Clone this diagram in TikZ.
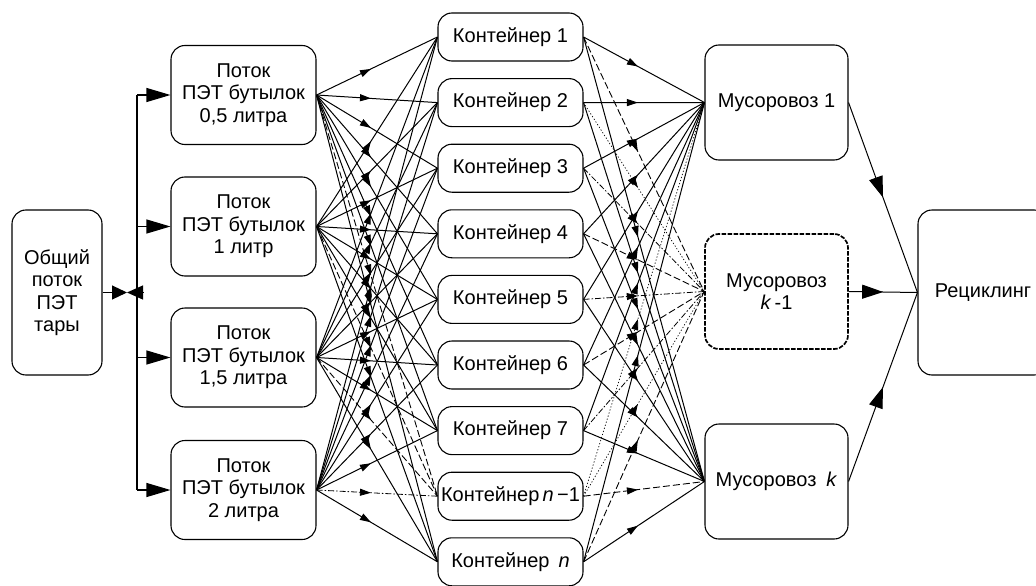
\documentclass[tikz,border=0pt]{standalone}
\usepackage{fontspec}
\setmainfont{Liberation Sans}
\usetikzlibrary{arrows.meta,decorations.markings}
\tikzset{
  box/.style={draw, line width=1.1pt, rounded corners=14pt, align=center,
    font=\fontsize{20}{22.5}\selectfont, inner sep=0pt},
  contbox/.style={box, minimum width=145pt, minimum height=48pt},
  streambox/.style={box, minimum width=145pt, minimum height=99pt},
  truckbox/.style={box, minimum width=143pt, minimum height=115pt},
  midarrow/.style={postaction={decorate, decoration={markings,
    mark=at position #1 with {\arrow{Triangle[length=11pt,width=7pt]}}}}},
  bigmid/.style={postaction={decorate, decoration={markings,
    mark=at position #1 with {\arrow{Triangle[length=21pt,width=14pt]}}}}},
  solidln/.style={line width=1pt, midarrow=0.45},
  dashln/.style={line width=0.9pt, dash pattern=on 7pt off 3pt, midarrow=0.45},
  dotln/.style={line width=0.7pt, dash pattern=on 1.2pt off 2pt, midarrow=0.45},
  dashdotln/.style={line width=0.8pt, dash pattern=on 6pt off 2pt on 1.5pt off 2pt, midarrow=0.45},
  bigtip/.style={line width=1.1pt, -{Triangle[length=24pt,width=14pt]}},
}
\begin{document}
\begin{tikzpicture}[x=1pt,y=-1pt]
\useasboundingbox (0,0) rectangle (1036,586);

% left node
\node[box, minimum width=90pt, minimum height=165pt] (G) at (57,292.5) {Общий\\поток\\ПЭТ\\тары};

% streams
\node[streambox] (S1) at (243.5,95) {Поток\\ПЭТ бутылок\\0,5 литра};
\node[streambox] (S2) at (243.5,226.5) {Поток\\ПЭТ бутылок\\1 литр};
\node[streambox] (S3) at (243.5,357.5) {Поток\\ПЭТ бутылок\\1,5 литра};
\node[streambox] (S4) at (243.5,490) {Поток\\ПЭТ бутылок\\2 литра};

% containers
\node[contbox] (C1) at (510.5,37) {Контейнер 1};
\node[contbox] (C2) at (510.5,102.6) {Контейнер 2};
\node[contbox] (C3) at (510.5,168.2) {Контейнер 3};
\node[contbox] (C4) at (510.5,233.8) {Контейнер 4};
\node[contbox] (C5) at (510.5,299.4) {Контейнер 5};
\node[contbox] (C6) at (510.5,365) {Контейнер 6};
\node[contbox] (C7) at (510.5,430.6) {Контейнер 7};
\node[contbox] (Cm) at (510.5,496.2) {Контейнер\thinspace\textit{n}\thinspace−1};
\node[contbox] (Cn) at (510.5,561.8) {Контейнер\hspace{0.45em}\textit{n}};

% trucks
\node[truckbox] (T1) at (776.5,102.5) {Мусоровоз 1};
\node[truckbox, line width=1.7pt, dash pattern=on 4.5pt off 1.5pt] (Tm) at (776.5,291.5) {Мусоровоз\\\textit{k}\,-1};
\node[truckbox] (Tk) at (776.5,481.5) {Мусоровоз\hspace{0.5em}\textit{k}};

% recycling
\node[box, minimum width=130pt, minimum height=165pt] (R) at (983,292.5) {Рециклинг};

% bus
\coordinate (b1) at (137,95);
\coordinate (b2) at (137,226.5);
\coordinate (b3) at (137,357.5);
\coordinate (b4) at (137,490);
\coordinate (bw) at (127,292.5);
\coordinate (be) at (143,292.5);
\draw[line width=1.1pt] (b1) -- (b4);
\draw[line width=1.1pt, -{Triangle[length=15pt,width=14pt]}] (G.east) -- (bw);
\draw[line width=1.1pt, -{Triangle[length=16pt,width=14pt]}] (be) -- (bw);
\foreach \b/\s in {b1/S1,b2/S2,b3/S3,b4/S4}
  \draw[bigtip] (\b) -- (\s.west);

% streams -> containers
\foreach \s in {S1,S2,S3,S4}{
  \foreach \c in {C1,C2,C3,C4,C5,C6,C7,Cn}
    \draw[solidln] (\s.east) -- (\c.west);
}
\draw[dashln] (S1.east) -- (Cm.west);
\draw[dashln] (S2.east) -- (Cm.west);
\draw[dashln] (S3.east) -- (Cm.west);
\draw[dashdotln] (S4.east) -- (Cm.west);

% containers -> trucks
\foreach \c in {C1,C2,C3,C4,C5,C6,C7,Cn}{
  \draw[solidln] (\c.east) -- (T1.west);
  \draw[solidln] (\c.east) -- (Tk.west);
}
\draw[dashln] (C1.east) -- (Tm.west);
\draw[dotln] (C2.east) -- (Tm.west);
\draw[dashdotln] (C3.east) -- (Tm.west);
\draw[dashln] (C4.east) -- (Tm.west);
\draw[dashdotln] (C5.east) -- (Tm.west);
\draw[dashln] (C6.east) -- (Tm.west);
\draw[dashdotln] (C7.east) -- (Tm.west);
\draw[dashln] (Cn.east) -- (Tm.west);
\draw[dotln] (Cm.east) -- (T1.west);
\draw[dotln] (Cm.east) -- (Tm.west);
\draw[dashln] (Cm.east) -- (Tk.west);

% trucks -> recycling
\foreach \t in {T1,Tm,Tk}
  \draw[line width=1pt, bigmid=0.5] (\t.east) -- (R.west);
\end{tikzpicture}
\end{document}
